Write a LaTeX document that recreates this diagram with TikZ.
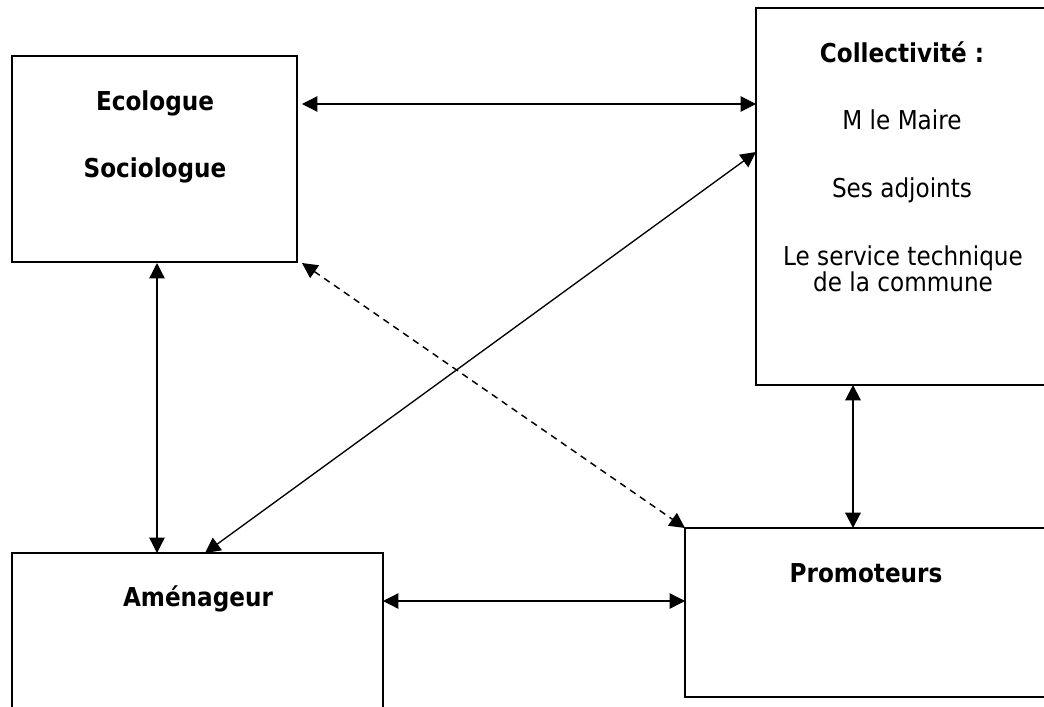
\documentclass[tikz,border=0pt]{standalone}
\usepackage{fontspec}
\setmainfont{DejaVu Sans}[FakeStretch=0.89]
\usetikzlibrary{arrows.meta,calc}
\begin{document}
\begin{tikzpicture}[x=0.75pt,y=-0.75pt,
  >={Triangle[length=11.5pt,width=11.5pt]},
  box/.style={draw,line width=1.5pt,inner sep=0pt,outer sep=0pt},
  txt/.style={anchor=base,inner sep=0pt,font=\fontsize{19.5pt}{19.5pt}\selectfont},
  head/.style={txt,font=\fontsize{19.5pt}{19.5pt}\selectfont\bfseries},
  link/.style={<->,line width=1pt},
  heavylink/.style={<->,line width=1.6pt},
  weaklink/.style={<->,line width=1.1pt,dash pattern=on 5pt off 4pt}]
\useasboundingbox (0,0) rectangle (1044,706);
\clip (0,0) rectangle (1044,706);

% the four actors
\node[box,minimum width=213.75pt,minimum height=154.5pt] (eco) at (154.5,159) {};
\node[box,minimum width=220.5pt,minimum height=282.75pt] (coll) at (903,196.5) {};
\node[box,minimum width=278.25pt,minimum height=125.25pt] (ame) at (197.5,636.5) {};
\node[box,minimum width=273.75pt,minimum height=126.75pt] (prom) at (867.5,612.5) {};

% labels
\node[head] (ecot1) at (155,111) {Ecologue};
\node[head] (ecot2) at (155,177) {Sociologue};
\node[head] (collt1) at (902,63) {Collectivité :};
\node[txt] (collt2) at (902,130) {M le Maire};
\node[txt] (collt3) at (902,197) {Ses adjoints};
\node[txt] (collt4) at (903,265) {Le service technique};
\node[txt] (collt5) at (903,291) {de la commune};
\node[head] (amet) at (198,606) {Aménageur};
\node[head] (promt) at (866,582) {Promoteurs};

% relations
\draw[link] ($(eco.north east)+(5,48)$) -- ($(coll.north west)+(0,96)$);
\draw[link] ($(coll.north west)+(0,144)$) -- ($(ame.north west)+(193,0)$);
\draw[weaklink] ($(eco.south east)+(5,1)$) -- (prom.north west);
\draw[link] ($(eco.south west)+(145,1)$) -- ($(ame.north west)+(145,0)$);
\draw[heavylink] ($(coll.south west)+(97,0)$) -- ($(prom.north west)+(168,0)$);
\draw[link] ($(ame.north east)+(0,48)$) -- ($(prom.north west)+(0,73)$);
\end{tikzpicture}
\end{document}
